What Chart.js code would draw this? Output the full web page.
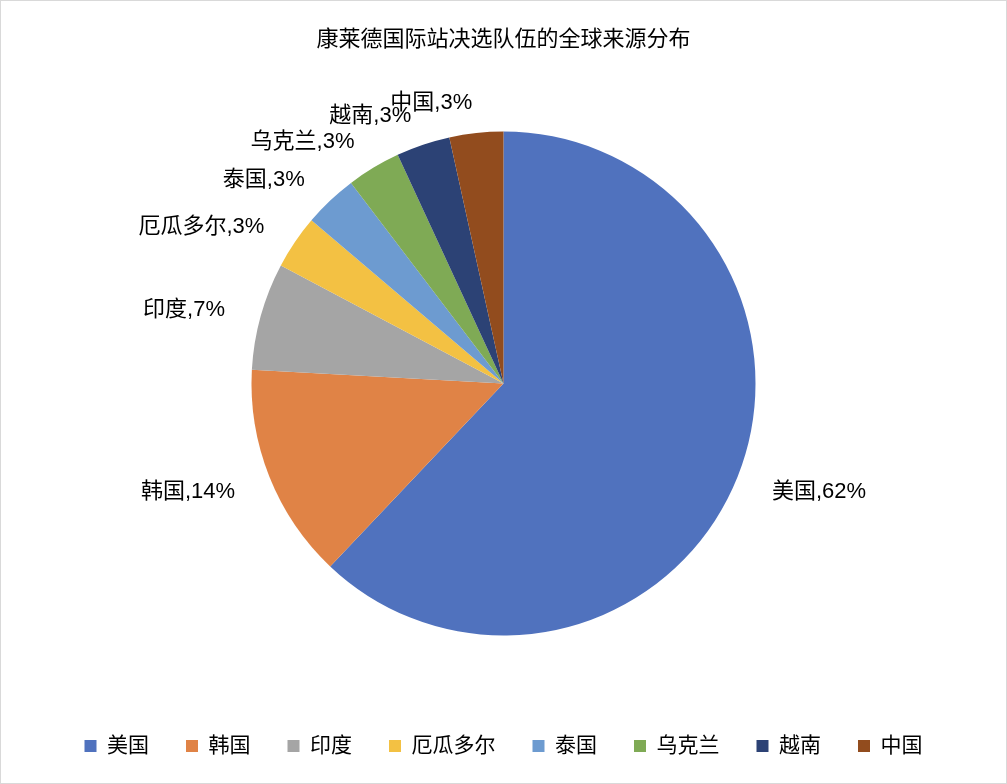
<!DOCTYPE html>
<html>
<head>
<meta charset="utf-8">
<script src="https://cdn.jsdelivr.net/npm/chart.js@4.4.0/dist/chart.umd.min.js"></script>
<style>
html,body{margin:0;padding:0;background:#fff;}
#wrap{width:1007px;height:784px;position:relative;}
</style>
</head>
<body>
<div id="wrap"><canvas id="c" width="1007" height="784"></canvas></div>
<script>
const titleText = '康莱德国际站决选队伍的全球来源分布';
const categories = ['美国', '韩国', '印度', '厄瓜多尔', '泰国', '乌克兰', '越南', '中国'];
const teamCounts = [18, 4, 2, 1, 1, 1, 1, 1];
const sliceColors = ['#5072BE', '#E08346', '#A5A5A5', '#F3C143', '#6D9BD0', '#7FAA55', '#2C4275', '#924C1E'];

const FAMILY = '"Liberation Sans", "Noto Sans CJK SC", "Noto Sans", sans-serif';
Chart.defaults.font.family = FAMILY;
Chart.defaults.color = '#000';

const frame = {
  id: 'frame',
  beforeDraw(chart) {
    const c = chart.ctx;
    c.save();
    c.fillStyle = '#fff';
    c.fillRect(0, 0, chart.width, chart.height);
    c.restore();
  },
  afterDraw(chart) {
    const c = chart.ctx;
    c.save();
    c.strokeStyle = '#d9d9d9';
    c.lineWidth = 1;
    c.strokeRect(0.5, 0.5, chart.width - 1, chart.height - 1);
    c.restore();
  }
};

const outLabels = {
  id: 'outLabels',
  afterDatasetsDraw(chart) {
    const c = chart.ctx;
    const meta = chart.getDatasetMeta(0);
    const data = chart.data.datasets[0].data;
    const total = data.reduce((a, b) => a + b, 0);
    c.save();
    c.font = '22px ' + FAMILY;
    c.fillStyle = '#000';
    c.textBaseline = 'middle';
    meta.data.forEach((arc, i) => {
      const p = arc.getProps(['x', 'y', 'startAngle', 'endAngle', 'outerRadius'], true);
      const mid = (p.startAngle + p.endAngle) / 2;
      const x = p.x + Math.cos(mid) * (p.outerRadius + 37);
      const y = p.y + Math.sin(mid) * (p.outerRadius + 33) + 3;
      c.textAlign = Math.cos(mid) >= 0 ? 'left' : 'right';
      const txt = chart.data.labels[i] + ',' + Math.round(data[i] / total * 100) + '%';
      c.fillText(txt, x, y);
    });
    c.restore();
  }
};

new Chart(document.getElementById('c'), {
  type: 'pie',
  data: {
    labels: categories,
    datasets: [{
      data: teamCounts,
      backgroundColor: sliceColors,
      borderWidth: 0,
      radius: 252
    }]
  },
  options: {
    responsive: false,
    animation: false,
    devicePixelRatio: 1,
    layout: { padding: { top: 0, bottom: 17.5, left: 0, right: 0 } },
    plugins: {
      title: {
        display: true,
        text: titleText,
        color: '#000',
        font: { size: 22, weight: 'normal' },
        padding: { top: 27, bottom: 15.1 }
      },
      legend: {
        position: 'bottom',
        labels: {
          boxWidth: 12,
          boxHeight: 12,
          padding: 37,
          color: '#000',
          font: { size: 21 }
        }
      },
      tooltip: { enabled: false }
    }
  },
  plugins: [frame, outLabels]
});
</script>
</body>
</html>
